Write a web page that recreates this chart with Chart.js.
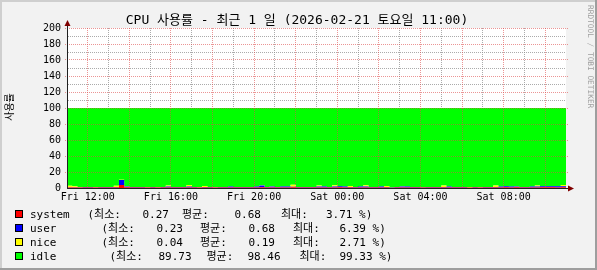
<!DOCTYPE html>
<html><head><meta charset="utf-8">
<script src="https://cdn.jsdelivr.net/npm/chart.js@4/dist/chart.umd.min.js"></script>
<style>html,body{margin:0;padding:0;background:#F2F2F2;}canvas{display:block;}</style>
</head><body>
<canvas id="c" width="597" height="270"></canvas>
<script>
// ---- text ----
const titleText = 'CPU 사용률 - 최근 1 일 (2026-02-21 토요일 11:00)';
const yUnitLabel = '사용률';
const watermarkText = 'RRDTOOL / TOBI OETIKER';
// ---- legend ----
const seriesNames = ['system', 'user', 'nice', 'idle'];
const seriesColors = ['#FF0000', '#0000FF', '#FFFF00', '#00FF00'];
const minVals = [0.27, 0.23, 0.04, 89.73];
const avgVals = [0.68, 0.68, 0.19, 98.46];
const maxVals = [3.71, 6.39, 2.71, 99.33];
// ---- ticks ----
const xTickHours = [1, 5, 9, 13, 17, 21];            // hours after Fri 11:00
const xTickLabels = ['Fri 12:00', 'Fri 16:00', 'Fri 20:00', 'Sat 00:00', 'Sat 04:00', 'Sat 08:00'];
const xMajorHours = [1, 3, 5, 7, 9, 11, 13, 15, 17, 19, 21, 23];
const yTickValues = [0, 20, 40, 60, 80, 100, 120, 140, 160, 180, 200];
// ---- series (15-minute samples, each value is for the interval ending at its time) ----
const system = [0.62,
 0.58,0.61,0.55,0.64,0.59,0.57,0.66,0.60,0.63,0.71,
 3.71,0.82,0.64,0.58,0.61,0.55,0.60,0.57,0.63,0.74,
 0.59,0.62,0.66,0.78,0.60,0.57,0.69,0.61,0.58,0.64,
 0.66,0.72,0.63,0.60,0.65,0.68,0.75,0.82,0.67,0.74,
 0.63,0.70,0.72,0.80,0.62,0.59,0.64,0.66,0.77,0.73,
 0.62,0.75,0.79,0.71,0.66,0.60,0.72,0.76,0.63,0.58,
 0.69,0.61,0.27,0.64,0.73,0.77,0.62,0.59,0.56,0.61,
 0.60,0.66,0.70,0.74,0.63,0.58,0.62,0.55,0.60,0.59,
 0.64,0.61,0.72,0.78,0.80,0.76,0.79,0.62,0.65,0.74,
 0.77,0.81,0.79,0.83,0.78,0.82];
const user = [0.55,
 0.50,0.48,0.52,0.47,0.55,0.51,0.49,0.53,0.50,0.62,
 6.39,1.10,0.58,0.52,0.49,0.47,0.53,0.50,0.56,1.05,
 0.52,0.48,0.55,1.12,0.51,0.49,0.58,0.53,0.50,0.54,
 0.60,1.08,0.55,0.52,0.57,0.61,1.15,2.45,0.62,1.20,
 0.58,1.05,1.10,0.66,0.54,0.51,0.57,0.60,1.18,1.02,
 0.58,1.25,1.30,1.08,0.62,0.55,1.12,1.20,0.57,0.52,
 1.05,0.58,0.30,0.55,1.22,1.15,0.60,0.53,0.48,0.52,
 0.55,0.60,0.62,1.10,0.58,0.52,0.55,0.23,0.53,0.50,
 0.56,0.54,0.60,1.15,1.25,1.18,1.22,0.58,0.62,1.10,
 1.05,1.30,1.35,1.28,1.32,1.25];
const nice = [0.12,
 1.85,1.20,0.10,0.12,0.08,0.11,0.09,0.13,0.10,1.60,
 0.17,0.12,0.09,0.11,0.10,0.08,0.12,0.10,0.11,1.40,
 0.10,0.09,0.12,1.75,0.11,0.10,1.30,0.09,0.12,0.10,
 0.11,0.10,0.13,0.09,0.12,0.10,0.11,0.14,0.10,0.12,
 0.09,0.11,0.10,2.71,0.12,0.10,0.09,0.11,1.25,0.10,
 0.12,1.45,0.11,0.09,1.30,0.10,0.12,1.50,0.11,0.09,
 0.10,1.20,0.10,0.10,0.11,0.09,0.13,0.10,0.04,0.11,
 0.10,0.12,1.85,0.11,0.09,0.10,0.12,0.10,0.11,0.09,
 0.10,0.12,1.90,0.10,0.11,0.09,0.12,0.10,0.11,0.10,
 1.20,0.11,0.10,0.12,0.09,1.60];
const idle = [98.71,
 97.07,97.71,98.83,98.77,98.78,98.81,98.76,98.74,98.77,97.07,
 89.73,97.96,98.69,98.79,98.80,98.90,98.75,98.83,98.70,96.81,
 98.79,98.81,98.67,96.35,98.78,98.84,97.43,98.77,98.80,98.72,
 98.63,98.10,98.69,98.79,98.66,98.61,97.99,96.59,98.61,97.94,
 98.70,98.14,98.08,95.83,98.72,98.80,98.70,98.63,96.80,98.15,
 98.68,96.55,97.80,98.12,97.42,98.75,98.04,96.54,98.69,98.81,
 98.16,97.61,99.33,98.71,97.94,97.99,98.65,98.78,98.92,98.76,
 98.75,98.62,96.83,98.05,98.70,98.80,98.71,99.12,98.76,98.82,
 98.70,98.73,96.78,97.97,97.84,97.97,97.87,98.70,98.62,98.06,
 96.98,97.78,97.76,97.77,97.81,96.33];
const sampleStepHours = 0.25;
const sampleHours = system.map((_, i) => i * sampleStepHours);
const gridHours = Array.from({length: 25}, (_, i) => i);
const yGridValues = Array.from({length: 21}, (_, i) => i * 10);

// ---- styles ----
const MONO = "'DejaVu Sans Mono', 'Noto Sans CJK KR', monospace";
const GRID = 'rgba(143,143,143,0.75)';
const MGRID = 'rgba(222,79,79,0.6)';
const AXIS = '#202020';
const ARROW = '#800000';
const NONE = 'rgba(0,0,0,0)';

const seriesData = [system, user, nice, idle];
const datasets = seriesData.map((d, i) => ({
  label: seriesNames[i], data: d,
  backgroundColor: seriesColors[i], borderColor: NONE, borderWidth: 0,
  pointRadius: 0, stepped: 'after', tension: 0,
  fill: i === 0 ? 'origin' : '-1'
}));

// legend layout: text x positions per row for the 7 pieces
const legendX = [
  [30, 87.5, 142.5, 182, 234.5, 281, 326],
  [30, 101.5, 156.5, 200, 248.5, 293, 339.5],
  [30, 101.5, 156.5, 200, 248.5, 293, 339.5],
  [30, 109.5, 158.5, 206.5, 247.5, 299.5, 339.5]
];
const legendBase = [218, 232, 246, 260];

const align = p => Math.round(p - 0.5) + 0.5;

const deco = {
  id: 'deco',
  beforeDraw(chart) {
    const ctx = chart.ctx, a = chart.chartArea;
    ctx.save();
    ctx.fillStyle = '#F2F2F2'; ctx.fillRect(0, 0, 597, 270);
    ctx.fillStyle = '#CFCFCF'; ctx.fillRect(0, 0, 597, 2); ctx.fillRect(0, 0, 2, 270);
    ctx.fillStyle = '#9E9E9E'; ctx.fillRect(0, 268, 597, 2); ctx.fillRect(595, 0, 2, 270);
    ctx.fillStyle = '#FFFFFF'; ctx.fillRect(a.left, a.top, a.right - a.left, a.bottom - a.top);
    ctx.restore();
  },
  afterDatasetsDraw(chart) {
    // major grid on top of the areas, as rrdtool does
    const ctx = chart.ctx, a = chart.chartArea, xs = chart.scales.x, ys = chart.scales.y;
    ctx.save();
    ctx.strokeStyle = MGRID; ctx.lineWidth = 1; ctx.setLineDash([1, 1]);
    ctx.beginPath();
    xMajorHours.forEach(h => { const px = align(xs.getPixelForValue(h)); ctx.moveTo(px, a.top); ctx.lineTo(px, a.bottom); });
    yTickValues.filter(v => v > 0).forEach(v => { const py = align(ys.getPixelForValue(v)); ctx.moveTo(a.left - 2, py); ctx.lineTo(a.right + 2, py); });
    ctx.stroke();
    ctx.restore();
  },
  afterDraw(chart) {
    const ctx = chart.ctx, a = chart.chartArea;
    ctx.save();
    // axis extensions + arrows
    const ax = align(a.left), ay = align(a.bottom);
    ctx.strokeStyle = AXIS; ctx.lineWidth = 1;
    ctx.beginPath(); ctx.moveTo(ax, a.bottom); ctx.lineTo(ax, 24); ctx.stroke();
    ctx.beginPath(); ctx.moveTo(a.left, ay); ctx.lineTo(569, ay); ctx.stroke();
    ctx.fillStyle = ARROW;
    ctx.beginPath(); ctx.moveTo(ax - 3, 26); ctx.lineTo(ax + 3, 26); ctx.lineTo(ax, 20); ctx.closePath(); ctx.fill();
    ctx.beginPath(); ctx.moveTo(568, ay - 3); ctx.lineTo(568, ay + 3); ctx.lineTo(574, ay); ctx.closePath(); ctx.fill();
    // title
    ctx.fillStyle = '#000';
    ctx.font = '13px ' + MONO;
    ctx.textAlign = 'center'; ctx.textBaseline = 'alphabetic';
    ctx.fillText(titleText, 297, 24);
    // unit label
    ctx.save();
    ctx.translate(10, 107); ctx.rotate(-Math.PI / 2);
    ctx.font = '10px ' + MONO; ctx.textAlign = 'center'; ctx.textBaseline = 'middle';
    ctx.fillText(yUnitLabel, 0, 0);
    ctx.restore();
    // watermark
    ctx.save();
    ctx.translate(590, 5); ctx.rotate(Math.PI / 2);
    ctx.font = '7.8px ' + MONO; ctx.textAlign = 'left'; ctx.textBaseline = 'middle';
    ctx.fillStyle = '#A0A0A0';
    ctx.fillText(watermarkText, 0, 0);
    ctx.restore();
    // legend
    ctx.font = '11px ' + MONO; ctx.textAlign = 'left'; ctx.textBaseline = 'alphabetic';
    for (let i = 0; i < seriesNames.length; i++) {
      const b = legendBase[i], px = legendX[i];
      ctx.fillStyle = seriesColors[i]; ctx.fillRect(15, b - 8, 8, 8);
      ctx.strokeStyle = '#000'; ctx.lineWidth = 1; ctx.strokeRect(15.5, b - 7.5, 7, 7);
      ctx.fillStyle = '#000';
      const parts = [seriesNames[i], '(최소:', minVals[i].toFixed(2), '평균:', avgVals[i].toFixed(2), '최대:', maxVals[i].toFixed(2) + ' %)'];
      parts.forEach((t, j) => ctx.fillText(t, px[j], b));
    }
    ctx.restore();
  }
};

new Chart(document.getElementById('c'), {
  type: 'line',
  data: { labels: sampleHours, datasets },
  plugins: [deco],
  options: {
    responsive: false, animation: false, devicePixelRatio: 1, events: [],
    layout: { padding: { left: 0, top: 28, right: 31, bottom: 0 } },
    plugins: { legend: { display: false }, title: { display: false }, tooltip: { enabled: false } },
    scales: {
      x: {
        type: 'linear', min: 0, max: 24, position: 'bottom',
        afterFit: s => { s.height = 82; },
        afterBuildTicks: s => { s.ticks = gridHours.map(v => ({ value: v })); },
        ticks: { autoSkip: false, maxRotation: 0, minRotation: 0, padding: 3, color: '#000',
          font: { family: MONO, size: 10 },
          callback: v => { const k = xTickHours.indexOf(v); return k >= 0 ? xTickLabels[k] : ''; } },
        grid: { drawTicks: false, lineWidth: 1,
          color: c => (c.tick && c.tick.value % 2 === 0 && c.tick.value > 0 && c.tick.value < 24) ? GRID : NONE },
        border: { display: true, color: AXIS, width: 1, z: 1, dash: [1, 1] }
      },
      y: {
        type: 'linear', min: 0, max: 200, stacked: true, position: 'left',
        afterFit: s => { s.width = 67; },
        afterBuildTicks: s => { s.ticks = yGridValues.map(v => ({ value: v })); },
        ticks: { autoSkip: false, padding: 6, color: '#000', font: { family: MONO, size: 10 },
          callback: v => yTickValues.includes(v) ? String(v) : '' },
        grid: { drawTicks: false, lineWidth: 1,
          color: c => (c.tick && c.tick.value % 20 !== 0) ? GRID : NONE },
        border: { display: true, color: AXIS, width: 1, z: 1, dash: [1, 1] }
      }
    }
  }
});
</script>
</body></html>
